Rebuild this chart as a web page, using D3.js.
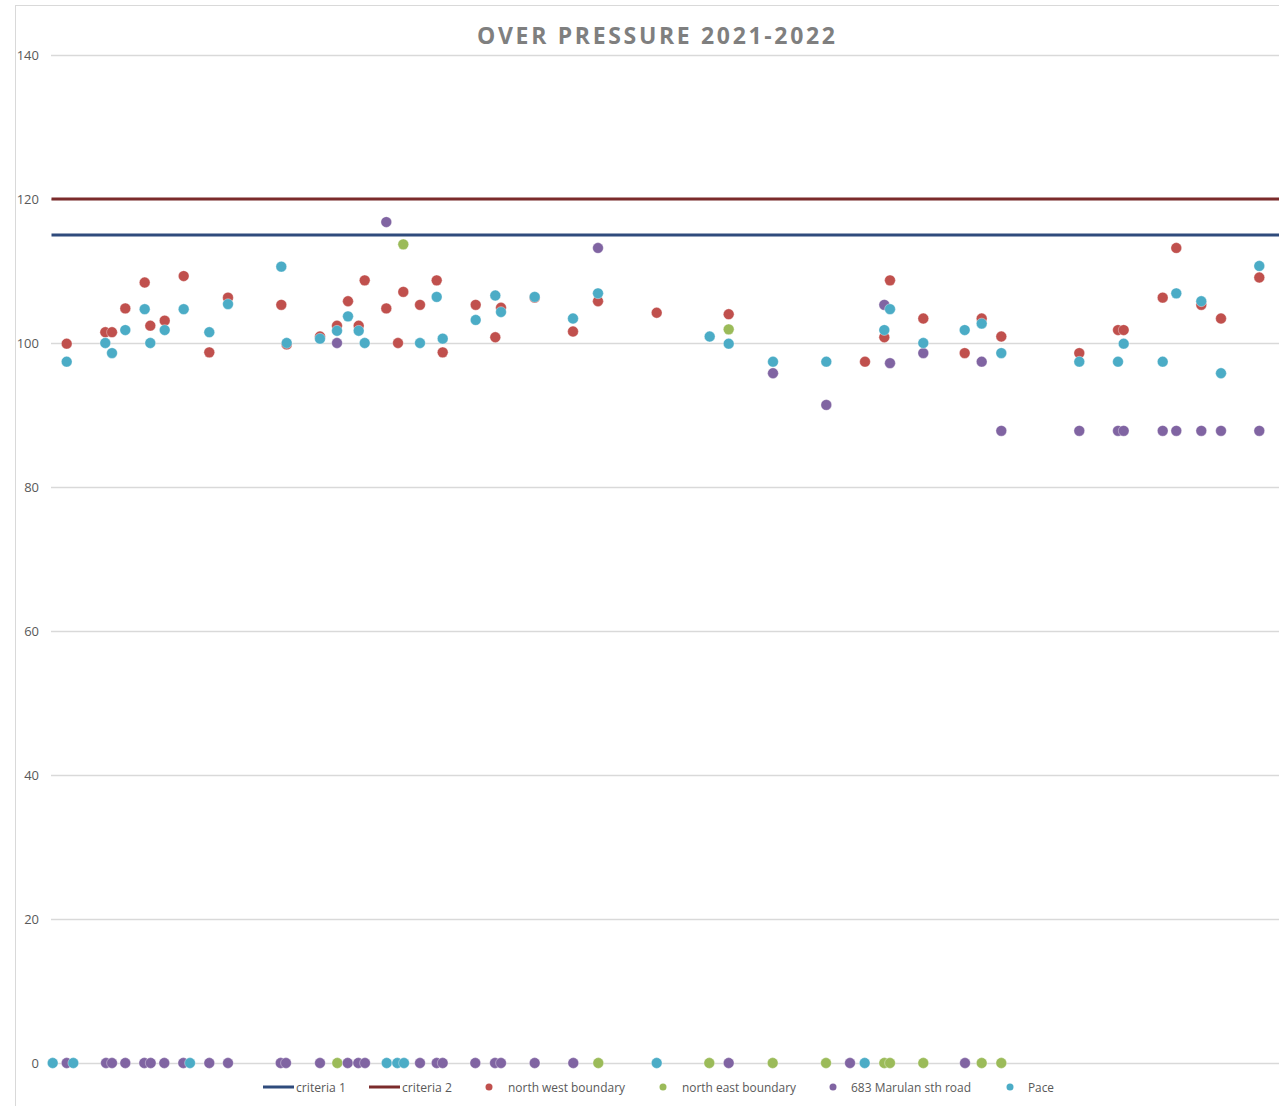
<!DOCTYPE html>
<html>
<head>
<meta charset="utf-8">
<script src="https://cdn.jsdelivr.net/npm/d3@7"></script>
<style>
  html, body { margin: 0; padding: 0; background: #fff; }
  svg { display: block; }
  text { font-family: "Open Sans", "Liberation Sans", sans-serif; }
</style>
</head>
<body>
<svg id="chart" width="1279" height="1106"></svg>
<script>
// ---- data ----
const title = "OVER PRESSURE 2021-2022";
const yTicks = [0, 20, 40, 60, 80, 100, 120, 140];
const criteria1 = 115;
const criteria2 = 120;

// north west boundary
const nwX = [16.7,55.3,62,75.3,94.7,100.3,114.7,133.7,159.3,178,231.3,236.7,270,287,298,308.7,314.7,336.3,348,353.3,370,386.7,392.7,425.7,445.3,451,484.7,523,548,606.7,678.7,815,834.3,840,873.3,914.7,931.7,951.3,1029.3,1068,1073.7,1112.7,1126.3,1151.3,1171,1209.3];
const nwY = [99.9,101.5,101.5,104.8,108.4,102.4,103.1,109.3,98.7,106.3,105.3,99.8,100.9,102.4,105.8,102.4,108.7,104.8,100,107.1,105.3,108.7,98.7,105.3,100.8,104.9,106.3,101.6,105.8,104.2,104.0,97.4,100.8,108.7,103.4,98.6,103.4,100.9,98.6,101.8,101.8,106.3,113.2,105.3,103.4,109.1];

// north east boundary
const neX = [287.3,353.3,548.3,659.3,678.7,722.7,776,834.3,840,873.3,931.7,951.3];
const neY = [0,113.7,0,0,101.9,0,0,0,0,0,0,0];

// 683 Marulan sth road
const mrX = [16.7,56,62,75.3,94.3,100.7,114.3,133.3,159.3,178,230.7,236,270,287,297.7,308.3,315,336.3,370,386.7,392.7,425.3,445,451,484.7,523.3,548,678.7,723,776.3,800,834.3,840,873.3,915,931.7,951.3,1029.3,1068,1073.7,1112.7,1126.3,1151.3,1171,1209.3];
const mrY = [0,0,0,0,0,0,0,0,0,0,0,0,0,100,0,0,0,116.8,0,0,0,0,0,0,0,0,113.2,0,95.8,91.4,0,105.3,97.2,98.6,0,97.4,87.8,87.8,87.8,87.8,87.8,87.8,87.8,87.8,87.8];

// Pace
const pcX = [2.7,16.7,23.3,55.3,62,75.3,94.7,100.3,114.7,133.7,140,159.3,178,231.3,236.7,270,287,298,308.7,314.7,336.7,347.3,354,370,386.7,392.7,425.7,445.3,451,484.7,523,548,606.7,659.7,678.7,723,776.3,814.7,834.3,840,873.3,914.7,931.7,951.3,1029.3,1068,1073.7,1112.7,1126.3,1151.3,1171,1209.3];
const pcY = [0,97.4,0,100,98.6,101.8,104.7,100,101.8,104.7,0,101.5,105.4,110.6,100,100.6,101.7,103.7,101.7,100,0,0,0,100,106.4,100.6,103.2,106.6,104.3,106.4,103.4,106.9,0,100.9,99.9,97.4,97.4,0,101.8,104.7,100,101.8,102.7,98.6,97.4,97.4,99.9,97.4,106.9,105.8,95.8,110.7];

const seriesNames = ["criteria 1", "criteria 2", "north west boundary", "north east boundary", "683 Marulan sth road", "Pace"];
const seriesColors = ["#2f4b7c", "#7b2b2b", "#c0504d", "#9bbb59", "#8064a2", "#4bacc6"];

// ---- layout ----
const svg = d3.select("#chart");
const W = 1279, H = 1106;
const plot = { left: 50, right: 1279, top: 55, bottom: 1063 };

const x = d3.scaleLinear().domain([0, 1229]).range([plot.left, plot.right]);
const y = d3.scaleLinear().domain([0, 140]).range([plot.bottom, plot.top]);

// outer chart border
svg.append("rect")
  .attr("x", 15.5).attr("y", 5.5)
  .attr("width", W + 20).attr("height", H + 20)
  .attr("fill", "#fff").attr("stroke", "#d9d9d9").attr("stroke-width", 1);

// title
svg.append("text")
  .attr("x", 656).attr("y", 44)
  .attr("text-anchor", "middle")
  .attr("font-size", 23).attr("font-weight", "bold")
  .attr("fill", "#7f7f7f")
  .attr("textLength", 358).attr("lengthAdjust", "spacing")
  .text(title);

// y axis with gridlines
const yAxis = d3.axisLeft(y).tickValues(yTicks).tickSize(-(plot.right - plot.left) + 1).tickPadding(12);
const gy = svg.append("g").attr("transform", `translate(${plot.left + 1},0)`).call(yAxis);
gy.select(".domain").remove();
gy.selectAll(".tick line").attr("stroke", "#d9d9d9").attr("stroke-width", 1.3);
gy.selectAll(".tick text").attr("fill", "#595959").attr("font-size", 13)
  .attr("font-family", "'Open Sans', sans-serif");

// criteria lines
[[criteria1, seriesColors[0]], [criteria2, seriesColors[1]]].forEach(([v, c]) => {
  svg.append("line")
    .attr("x1", x(1.5)).attr("x2", plot.right)
    .attr("y1", y(v)).attr("y2", y(v))
    .attr("stroke", c).attr("stroke-width", 3);
});

// scatter series (draw order like the original)
const scatter = [
  [nwX, nwY, seriesColors[2]],
  [neX, neY, seriesColors[3]],
  [mrX, mrY, seriesColors[4]],
  [pcX, pcY, seriesColors[5]]
];
scatter.forEach(([xs, ys, c]) => {
  svg.append("g").selectAll("circle")
    .data(xs.map((d, i) => [d, ys[i]]))
    .join("circle")
    .attr("cx", d => x(d[0]))
    .attr("cy", d => y(d[1]))
    .attr("r", 5.4)
    .attr("fill", c)
    .attr("stroke", "#fff").attr("stroke-width", 0.6).attr("stroke-opacity", 0.6);
});

// legend
const legendY = 1087;
const legendItems = [
  { name: seriesNames[0], color: seriesColors[0], type: "line", sx: 263, tx: 296, w: 50 },
  { name: seriesNames[1], color: seriesColors[1], type: "line", sx: 369, tx: 402, w: 50 },
  { name: seriesNames[2], color: seriesColors[2], type: "dot", sx: 489, tx: 508, w: 117 },
  { name: seriesNames[3], color: seriesColors[3], type: "dot", sx: 663, tx: 682, w: 114 },
  { name: seriesNames[4], color: seriesColors[4], type: "dot", sx: 833, tx: 851, w: 120 },
  { name: seriesNames[5], color: seriesColors[5], type: "dot", sx: 1010, tx: 1028, w: 26 }
];
const lg = svg.append("g");
legendItems.forEach(it => {
  if (it.type === "line") {
    lg.append("line").attr("x1", it.sx).attr("x2", it.sx + 31)
      .attr("y1", legendY).attr("y2", legendY)
      .attr("stroke", it.color).attr("stroke-width", 3);
  } else {
    lg.append("circle").attr("cx", it.sx).attr("cy", legendY).attr("r", 3.5).attr("fill", it.color);
  }
  lg.append("text").attr("x", it.tx).attr("y", legendY + 4.5)
    .attr("font-size", 12.5).attr("fill", "#595959")
    .attr("textLength", it.w).attr("lengthAdjust", "spacingAndGlyphs")
    .text(it.name);
});
</script>
</body>
</html>
